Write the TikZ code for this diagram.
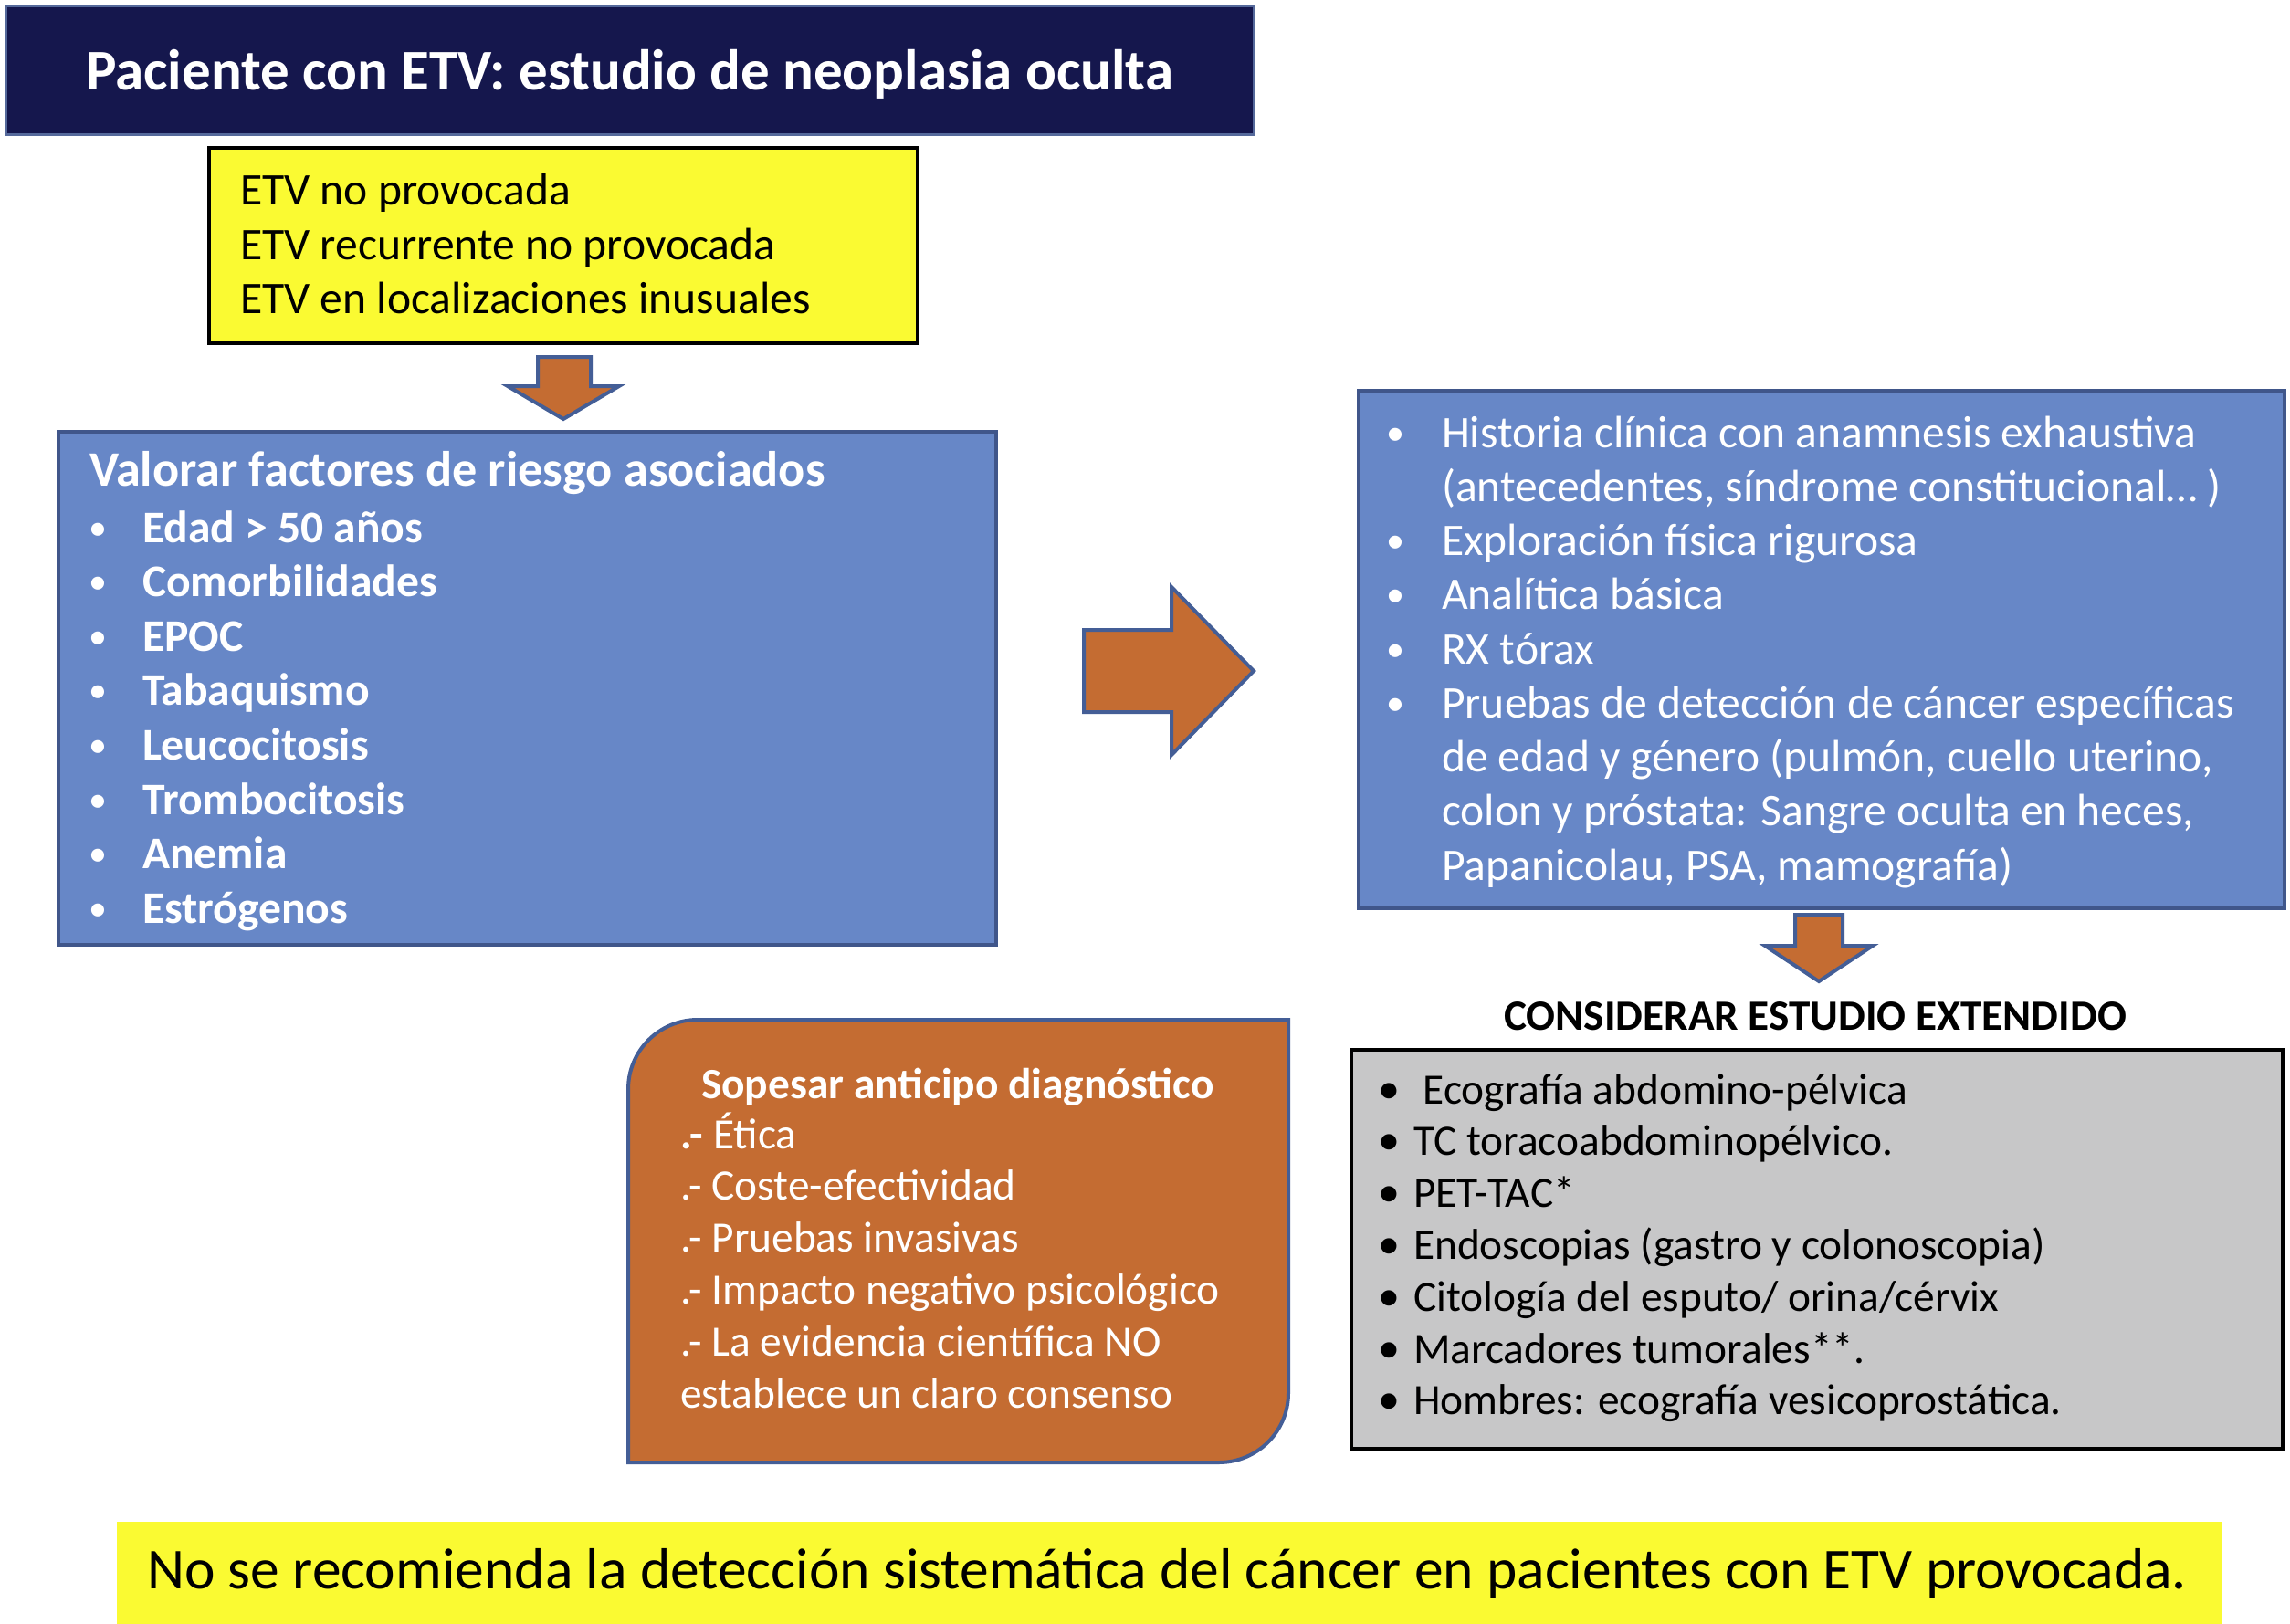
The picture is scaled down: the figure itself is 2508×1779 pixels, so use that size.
\documentclass[tikz,border=0pt]{standalone}
\usepackage{fontspec}
\setmainfont{Carlito}
\definecolor{navy}{RGB}{21,23,77}
\definecolor{titleline}{RGB}{85,105,155}
\definecolor{yel}{RGB}{250,250,50}
\definecolor{bluefill}{RGB}{103,135,199}
\definecolor{blueline}{RGB}{64,86,138}
\definecolor{orangefill}{RGB}{196,108,50}
\definecolor{arrowline}{RGB}{68,94,150}
\definecolor{grayfill}{RGB}{199,199,200}
\begin{document}
\begin{tikzpicture}[x=1pt,y=-1pt,
  box/.style={inner sep=0pt, outer sep=0pt},
  ln/.style={anchor=base west, inner sep=0pt, outer sep=0pt},
  bul/.style={anchor=base, inner sep=0pt, outer sep=0pt},
  blockarrow/.style={fill=orangefill, draw=arrowline, line width=4pt, line join=miter},
  fA/.style={font=\fontsize{49.6}{58}\selectfont},
  fAb/.style={font=\fontsize{49.6}{58}\selectfont\bfseries},
  fBul/.style={font=\fontsize{40}{48}\selectfont},
  fB/.style={font=\fontsize{47.4}{55}\selectfont},
  fBb/.style={font=\fontsize{47.4}{55}\selectfont\bfseries}]
\useasboundingbox (0,0) rectangle (2508,1779);
\fill[white] (0,0) rectangle (2508,1779);

% title
\node[box, draw=titleline, line width=3pt, fill=navy, minimum width=1367pt, minimum height=141pt] (title) at (689.5,77.5) {};
\node[anchor=base, inner sep=0pt, text=white, font=\fontsize{63}{74}\selectfont\bfseries] (titletext) at (689.5,99) {Paciente con ETV: estudio de neoplasia oculta};

% yellow box
\node[box, draw=black, line width=3.5pt, fill=yel, minimum width=776pt, minimum height=214pt] (cond) at (617,269) {};
\node[ln, fA] (c1) at (263,225) {ETV no provocada};
\node[ln, fA] (c2) at (263,284) {ETV recurrente no provocada};
\node[ln, fA] (c3) at (263,343) {ETV en localizaciones inusuales};

% down arrow 1
\filldraw[blockarrow] (589,391) -- (647,391) -- (647,423) -- (678,423) -- (617,459) -- (556,423) -- (589,423) -- cycle;

% left blue box
\node[box, draw=blueline, line width=4pt, fill=bluefill, minimum width=1027pt, minimum height=562pt] (risk) at (577.5,754) {};
\node[ln, text=white, font=\fontsize{54.3}{62}\selectfont\bfseries] (rh) at (98,532) {Valorar factores de riesgo asociados};
\foreach \t [count=\i from 0] in {Edad > 50 años, Comorbilidades, EPOC, Tabaquismo, Leucocitosis, Trombocitosis, Anemia, Estrógenos}{
  \node[bul, text=white, fBul] (rb\i) at (107,591+59.6*\i) {•};
  \node[ln, text=white, fAb] (ri\i) at (156,594+59.6*\i) {\t};
}

% right arrow
\filldraw[blockarrow] (1187,690) -- (1283,690) -- (1283,643) -- (1373,735) -- (1283,827) -- (1283,780) -- (1187,780) -- cycle;

% right blue box
\node[box, draw=blueline, line width=4pt, fill=bluefill, minimum width=1014pt, minimum height=567pt] (exam) at (1995,711.5) {};
\foreach \k in {0,2,3,4,5}{
  \node[bul, text=white, fBul] (eb\k) at (1528,487+59.25*\k) {•};
}
\node[ln, text=white, fA] (e0) at (1579,490) {Historia clínica con anamnesis exhaustiva};
\node[ln, text=white, fA] (e1) at (1579,549.25) {(antecedentes, síndrome constitucional… )};
\node[ln, text=white, fA] (e2) at (1579,608.5) {Exploración física rigurosa};
\node[ln, text=white, fA] (e3) at (1579,667.75) {Analítica básica};
\node[ln, text=white, fA] (e4) at (1579,727) {RX tórax};
\node[ln, text=white, fA] (e5) at (1579,786.25) {Pruebas de detección de cáncer específicas};
\node[ln, text=white, fA] (e6) at (1579,845.5) {de edad y género (pulmón, cuello uterino,};
\node[ln, text=white, fA] (e7) at (1579,904.75) {colon y próstata: Sangre oculta en heces,};
\node[ln, text=white, fA] (e8) at (1579,964) {Papanicolau, PSA, mamografía)};

% down arrow 2
\filldraw[blockarrow] (1966,1002) -- (2018,1002) -- (2018,1036) -- (2051,1036) -- (1992,1075) -- (1933,1036) -- (1966,1036) -- cycle;

% extended study
\node[anchor=base, inner sep=0pt, font=\fontsize{47.2}{55}\selectfont\bfseries] (ext) at (1988,1128) {CONSIDERAR ESTUDIO EXTENDIDO};
\node[box, draw=black, line width=3.5pt, fill=grayfill, minimum width=1020pt, minimum height=437pt] (extbox) at (1990,1368.5) {};
\foreach \t [count=\i from 0] in {{\ Ecografía abdomino-pélvica}, {TC toracoabdominopélvico.}, {PET-TAC*}, {Endoscopias (gastro y colonoscopia)}, {Citología del esputo/ orina/cérvix}, {Marcadores tumorales**.}, {Hombres: ecografía vesicoprostática.}}{
  \node[bul, font=\fontsize{40}{48}\selectfont\bfseries] (xb\i) at (1521,1206+56.8*\i) {•};
  \node[ln, fB] (xi\i) at (1548,1209+56.8*\i) {\t};
}

% orange box
\node[box, minimum width=723pt, minimum height=485pt] (weigh) at (1049.5,1359.5) {};
\filldraw[fill=orangefill, draw=arrowline, line width=4pt] (688,1602) -- (688,1193) .. controls (688,1151) and (722,1117) .. (764,1117) -- (1411,1117) -- (1411,1526) .. controls (1411,1568) and (1377,1602) .. (1335,1602) -- cycle;
\node[ln, text=white, fBb] (wh) at (768,1203) {Sopesar anticipo diagnóstico};
\node[ln, text=white, fB] (w0) at (745,1258) {\textbf{.-} Ética};
\node[ln, text=white, fB] (w1) at (745,1314.8) {.- Coste-efectividad};
\node[ln, text=white, fB] (w2) at (745,1371.6) {.- Pruebas invasivas};
\node[ln, text=white, fB] (w3) at (745,1428.4) {.- Impacto negativo psicológico};
\node[ln, text=white, fB] (w4) at (745,1485.2) {.- La evidencia científica NO};
\node[ln, text=white, fB] (w5) at (745,1542) {establece un claro consenso};

% bottom band
\node[box, fill=yel, minimum width=2306pt, minimum height=112pt] (note) at (1281,1723) {};
\node[anchor=base, inner sep=0pt, font=\fontsize{63.5}{74}\selectfont] (notetext) at (1278,1740) {No se recomienda la detección sistemática del cáncer en pacientes con ETV provocada.};
\end{tikzpicture}
\end{document}
